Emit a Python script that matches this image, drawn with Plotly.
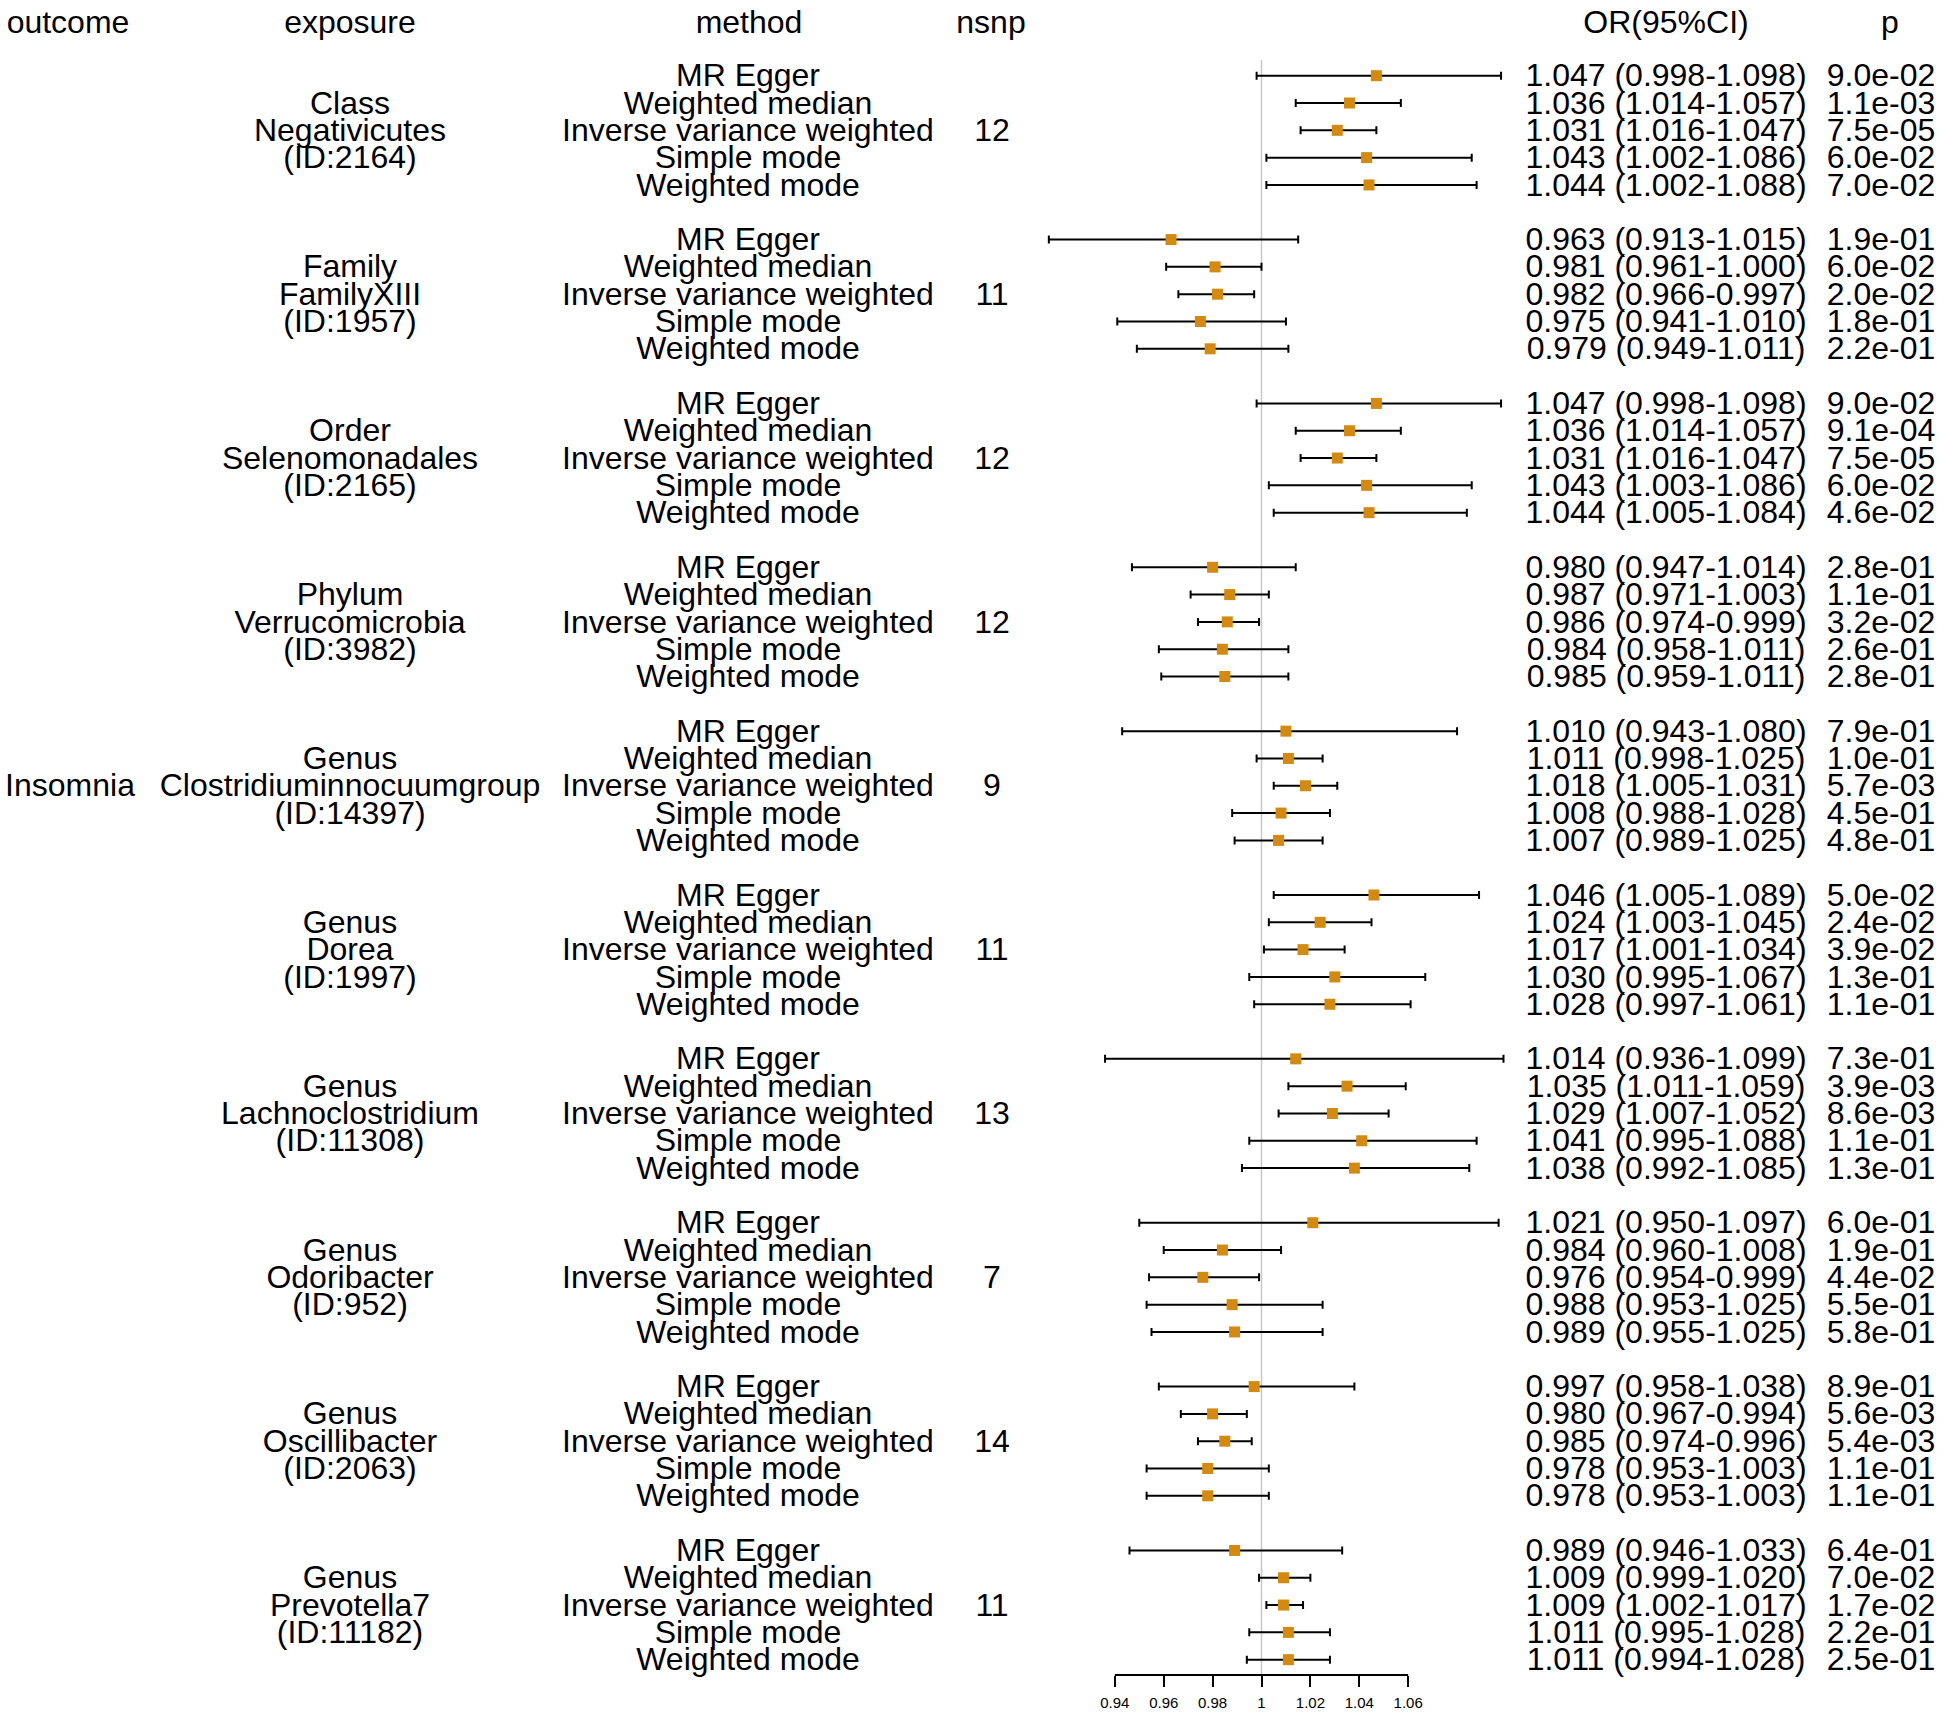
import plotly.graph_objects as go

# ---------------- data ----------------
outcome = "Insomnia"
exposure_lines = [
    ["Class", "Negativicutes", "(ID:2164)"],
    ["Family", "FamilyXIII", "(ID:1957)"],
    ["Order", "Selenomonadales", "(ID:2165)"],
    ["Phylum", "Verrucomicrobia", "(ID:3982)"],
    ["Genus", "Clostridiuminnocuumgroup", "(ID:14397)"],
    ["Genus", "Dorea", "(ID:1997)"],
    ["Genus", "Lachnoclostridium", "(ID:11308)"],
    ["Genus", "Odoribacter", "(ID:952)"],
    ["Genus", "Oscillibacter", "(ID:2063)"],
    ["Genus", "Prevotella7", "(ID:11182)"],
]
methods = ["MR Egger", "Weighted median", "Inverse variance weighted",
           "Simple mode", "Weighted mode"]
nsnp = [12, 11, 12, 12, 9, 11, 13, 7, 14, 11]

or_vals = [
    [1.047, 1.036, 1.031, 1.043, 1.044],
    [0.963, 0.981, 0.982, 0.975, 0.979],
    [1.047, 1.036, 1.031, 1.043, 1.044],
    [0.980, 0.987, 0.986, 0.984, 0.985],
    [1.010, 1.011, 1.018, 1.008, 1.007],
    [1.046, 1.024, 1.017, 1.030, 1.028],
    [1.014, 1.035, 1.029, 1.041, 1.038],
    [1.021, 0.984, 0.976, 0.988, 0.989],
    [0.997, 0.980, 0.985, 0.978, 0.978],
    [0.989, 1.009, 1.009, 1.011, 1.011],
]
ci_low = [
    [0.998, 1.014, 1.016, 1.002, 1.002],
    [0.913, 0.961, 0.966, 0.941, 0.949],
    [0.998, 1.014, 1.016, 1.003, 1.005],
    [0.947, 0.971, 0.974, 0.958, 0.959],
    [0.943, 0.998, 1.005, 0.988, 0.989],
    [1.005, 1.003, 1.001, 0.995, 0.997],
    [0.936, 1.011, 1.007, 0.995, 0.992],
    [0.950, 0.960, 0.954, 0.953, 0.955],
    [0.958, 0.967, 0.974, 0.953, 0.953],
    [0.946, 0.999, 1.002, 0.995, 0.994],
]
ci_high = [
    [1.098, 1.057, 1.047, 1.086, 1.088],
    [1.015, 1.000, 0.997, 1.010, 1.011],
    [1.098, 1.057, 1.047, 1.086, 1.084],
    [1.014, 1.003, 0.999, 1.011, 1.011],
    [1.080, 1.025, 1.031, 1.028, 1.025],
    [1.089, 1.045, 1.034, 1.067, 1.061],
    [1.099, 1.059, 1.052, 1.088, 1.085],
    [1.097, 1.008, 0.999, 1.025, 1.025],
    [1.038, 0.994, 0.996, 1.003, 1.003],
    [1.033, 1.020, 1.017, 1.028, 1.028],
]
p_vals = [
    ["9.0e-02", "1.1e-03", "7.5e-05", "6.0e-02", "7.0e-02"],
    ["1.9e-01", "6.0e-02", "2.0e-02", "1.8e-01", "2.2e-01"],
    ["9.0e-02", "9.1e-04", "7.5e-05", "6.0e-02", "4.6e-02"],
    ["2.8e-01", "1.1e-01", "3.2e-02", "2.6e-01", "2.8e-01"],
    ["7.9e-01", "1.0e-01", "5.7e-03", "4.5e-01", "4.8e-01"],
    ["5.0e-02", "2.4e-02", "3.9e-02", "1.3e-01", "1.1e-01"],
    ["7.3e-01", "3.9e-03", "8.6e-03", "1.1e-01", "1.3e-01"],
    ["6.0e-01", "1.9e-01", "4.4e-02", "5.5e-01", "5.8e-01"],
    ["8.9e-01", "5.6e-03", "5.4e-03", "1.1e-01", "1.1e-01"],
    ["6.4e-01", "7.0e-02", "1.7e-02", "2.2e-01", "2.5e-01"],
]
headers = ["outcome", "exposure", "method", "nsnp", "OR(95%CI)", "p"]
tick_vals = [0.94, 0.96, 0.98, 1.0, 1.02, 1.04, 1.06]
tick_text = ["0.94", "0.96", "0.98", "1", "1.02", "1.04", "1.06"]
ref_value = 1.0

# ---------------- layout constants ----------------
W, H = 1945, 1717
ROW0_PX, ROW_PX = 75.7, 27.31          # pixel centre of first row, row pitch
TEXT_SHIFT = 2.6 / 27.31               # text sits slightly lower than marks
AXIS_PX = 1675                          # pixel y of the x axis line
X1_PX, PX_PER_UNIT = 1261.5, 2444.4    # pixel of OR=1, pixels per OR unit
XR = [0.90, 1.11]
FONT = "Liberation Sans, Arial, sans-serif"
FS = 32
ORANGE = "#D4890F"

col_x = {"outcome": 70, "exposure": 350, "method": 748, "nsnp": 992,
         "or": 1666, "p": 1881}
hdr_x = [68, 350, 749, 991, 1666, 1890]


def px_to_row(py):
    return (py - ROW0_PX) / ROW_PX


y_range = [px_to_row(H), px_to_row(0)]

rows, xs, lo_err, hi_err, meth_txt, or_txt, p_txt = [], [], [], [], [], [], []
exp_rows, exp_txt, n_rows, n_txt = [], [], [], []
for g in range(len(or_vals)):
    base = g * 6
    for m in range(5):
        r = base + m
        rows.append(r)
        xs.append(or_vals[g][m])
        lo_err.append(or_vals[g][m] - ci_low[g][m])
        hi_err.append(ci_high[g][m] - or_vals[g][m])
        meth_txt.append(methods[m])
        or_txt.append(f"{or_vals[g][m]:.3f} ({ci_low[g][m]:.3f}-{ci_high[g][m]:.3f})")
        p_txt.append(p_vals[g][m])
    for k, line in enumerate(exposure_lines[g]):
        exp_rows.append(base + 1 + k)
        exp_txt.append(line)
    n_rows.append(base + 2)
    n_txt.append(str(nsnp[g]))

fig = go.Figure()

fig.add_trace(go.Scatter(
    x=xs, y=rows, mode="markers", xaxis="x", yaxis="y",
    marker=dict(symbol="square", size=11, color=ORANGE, line=dict(width=0)),
    error_x=dict(type="data", symmetric=False, array=hi_err, arrayminus=lo_err,
                 color="black", thickness=2, width=4),
    hoverinfo="skip", showlegend=False, cliponaxis=False,
))


def text_trace(xpx, ys, texts, pos="middle center"):
    return go.Scatter(
        x=[xpx] * len(ys), y=[v + TEXT_SHIFT for v in ys], text=texts,
        mode="text", xaxis="x2", yaxis="y",
        textposition=pos, textfont=dict(family=FONT, size=FS, color="black"),
        hoverinfo="skip", showlegend=False, cliponaxis=False,
    )


fig.add_trace(text_trace(col_x["outcome"], [26], [outcome]))
fig.add_trace(text_trace(col_x["exposure"], exp_rows, exp_txt))
fig.add_trace(text_trace(col_x["method"], rows, meth_txt))
fig.add_trace(text_trace(col_x["nsnp"], n_rows, n_txt))
fig.add_trace(text_trace(col_x["or"], rows, or_txt))
fig.add_trace(text_trace(col_x["p"], rows, p_txt))

hdr_row = px_to_row(22.3)
for hx, h in zip(hdr_x, headers):
    fig.add_trace(text_trace(hx, [hdr_row], [h]))

axis_pos = 1 - AXIS_PX / H
x_dom = [(X1_PX + (XR[0] - 1) * PX_PER_UNIT) / W, (X1_PX + (XR[1] - 1) * PX_PER_UNIT) / W]

shapes = [
    dict(type="line", xref="x", yref="y", x0=ref_value, x1=ref_value,
         y0=px_to_row(60), y1=px_to_row(AXIS_PX),
         line=dict(color="#C8C8C8", width=1.5), layer="below"),
    dict(type="line", xref="x", yref="paper", x0=min(tick_vals), x1=max(tick_vals),
         y0=axis_pos, y1=axis_pos, line=dict(color="black", width=2)),
]

fig.update_layout(
    width=W, height=H, margin=dict(l=0, r=0, t=0, b=0),
    paper_bgcolor="white", plot_bgcolor="rgba(0,0,0,0)",
    font=dict(family=FONT, size=FS, color="black"),
    showlegend=False,
    xaxis=dict(domain=x_dom, range=XR, anchor="free", position=axis_pos,
               tickmode="array", tickvals=tick_vals, ticktext=tick_text,
               ticks="outside", ticklen=11, tickwidth=2, tickcolor="black",
               ticklabelstandoff=3,
               tickfont=dict(family=FONT, size=15, color="black"),
               showline=False, showgrid=False, zeroline=False, fixedrange=True),
    xaxis2=dict(domain=[0, 1], range=[0, W], anchor="y", visible=False,
                showgrid=False, zeroline=False, fixedrange=True),
    yaxis=dict(domain=[0, 1], range=y_range, visible=False, showgrid=False,
               zeroline=False, fixedrange=True),
    shapes=shapes,
)

fig.write_html("out.html", config={"displayModeBar": False},
               post_script="document.body.style.margin='0';")
